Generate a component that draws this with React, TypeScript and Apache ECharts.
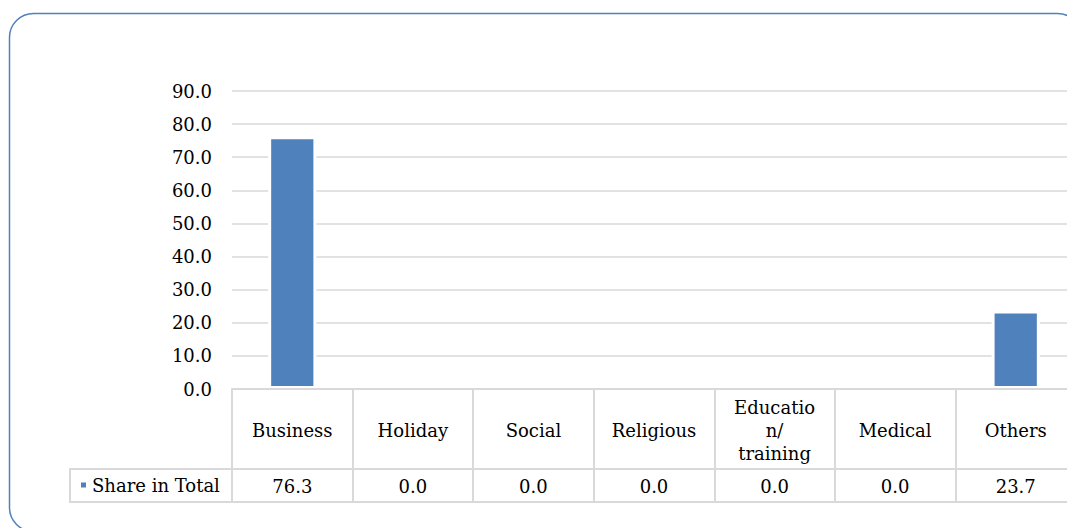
import React, { useEffect, useRef } from "react";
import * as echarts from "echarts";

const categories = ["Business", "Holiday", "Social", "Religious", "Education/ training", "Medical", "Others"];
const categoryLabels = ["Business", "Holiday", "Social", "Religious", "Educatio\nn/\ntraining", "Medical", "Others"];
const shareInTotal = [76.3, 0.0, 0.0, 0.0, 0.0, 0.0, 23.7];
const seriesName = "Share in Total";
const yTicks = { min: 0, max: 90, interval: 10 };

const FONT = "'DejaVu Serif', 'Liberation Serif', serif";
const GRID_LINE = "#d9d9d9";
const BAR_COLOR = "#4f81bd";
const CHART_W = 1084;

export default function App() {
  const ref = useRef<HTMLDivElement>(null);

  useEffect(() => {
    document.body.style.margin = "0";
    document.body.style.overflow = "hidden";
    const chart = echarts.init(ref.current!, null, { renderer: "svg" });
    const labelMap: Record<string, string> = {};
    categories.forEach((c, i) => (labelMap[c] = categoryLabels[i]));

    chart.setOption({
      animation: false,
      backgroundColor: "#ffffff",
      grid: { left: 232, right: CHART_W - 1076, top: 91, bottom: 139, containLabel: false },
      legend: {
        data: [seriesName],
        left: 79,
        top: 476,
        padding: 0,
        icon: "rect",
        itemWidth: 7,
        itemHeight: 7,
        textStyle: { fontFamily: FONT, fontSize: 18, color: "#000" },
      },
      xAxis: [
        {
          type: "category",
          data: categories,
          position: "bottom",
          z: 5,
          axisLine: { show: true, lineStyle: { color: GRID_LINE, width: 2 } },
          axisTick: { show: true, interval: 0, length: 113, lineStyle: { color: GRID_LINE, width: 2 } },
          axisLabel: {
            interval: 0,
            margin: 41,
            verticalAlign: "middle",
            fontFamily: FONT,
            fontSize: 18,
            lineHeight: 23,
            color: "#000",
            formatter: (v: string) => labelMap[v] ?? v,
          },
        },
        {
          type: "category",
          data: shareInTotal.map((v) => v.toFixed(1)),
          position: "bottom",
          offset: 80,
          z: 5,
          axisLine: { show: true, lineStyle: { color: GRID_LINE, width: 2 } },
          axisTick: { show: false },
          axisLabel: {
            interval: 0,
            margin: 17,
            verticalAlign: "middle",
            fontFamily: FONT,
            fontSize: 18,
            color: "#000",
          },
        },
        {
          type: "category",
          data: categories,
          position: "bottom",
          offset: 113,
          z: 5,
          axisLine: { show: true, lineStyle: { color: GRID_LINE, width: 2 } },
          axisTick: { show: false },
          axisLabel: { show: false },
        },
      ],
      yAxis: {
        type: "value",
        min: yTicks.min,
        max: yTicks.max,
        interval: yTicks.interval,
        axisLine: { show: false },
        axisTick: { show: false },
        splitLine: { show: true, lineStyle: { color: GRID_LINE, width: 1.5 } },
        axisLabel: {
          margin: 20,
          fontFamily: FONT,
          fontSize: 18,
          color: "#000",
          formatter: (v: number) => v.toFixed(1),
        },
      },
      series: [
        {
          name: seriesName,
          type: "bar",
          xAxisIndex: 0,
          data: shareInTotal,
          barWidth: "40%",
          itemStyle: { color: BAR_COLOR, borderColor: "#ffffff", borderWidth: 3 },
        },
      ],
      graphic: [
        {
          type: "rect",
          shape: { x: 9.5, y: 13.5, width: 1072, height: 518, r: 24 },
          style: { fill: "none", stroke: BAR_COLOR, lineWidth: 1.5 },
          z: 0,
          silent: true,
        },
        {
          type: "line",
          shape: { x1: 70, y1: 469, x2: 232, y2: 469 },
          style: { stroke: GRID_LINE, lineWidth: 2 },
          silent: true,
        },
        {
          type: "line",
          shape: { x1: 70, y1: 502, x2: 232, y2: 502 },
          style: { stroke: GRID_LINE, lineWidth: 2 },
          silent: true,
        },
        {
          type: "line",
          shape: { x1: 70, y1: 468, x2: 70, y2: 503 },
          style: { stroke: GRID_LINE, lineWidth: 2 },
          silent: true,
        },
      ],
    });

    return () => chart.dispose();
  }, []);

  return (
    <div style={{ position: "absolute", left: 0, top: 0, width: 1067, height: 528, overflow: "hidden" }}>
      <div ref={ref} style={{ width: CHART_W, height: 528 }} />
    </div>
  );
}
